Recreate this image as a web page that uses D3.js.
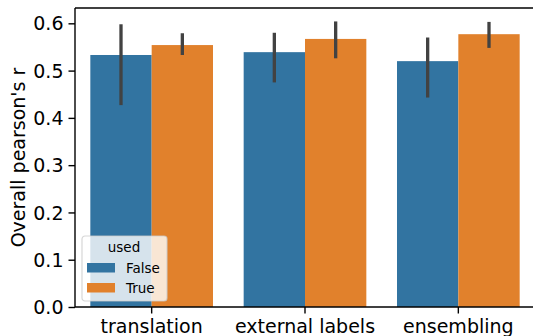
<!DOCTYPE html>
<html>
<head>
<meta charset="utf-8">
<script src="https://cdn.jsdelivr.net/npm/d3@7"></script>
<style>
  html, body { margin: 0; padding: 0; background: #fff; }
  svg { display: block; font-family: "DejaVu Sans", sans-serif; }
</style>
</head>
<body>
<svg id="chart" width="533" height="336"></svg>
<script>
// Grouped bar chart: overall Pearson's r per technique, split by whether it was used
const categories = ["translation", "external labels", "ensembling"];
const hues = ["False", "True"];
const meanValues = {
  False: [0.533, 0.539, 0.520],
  True:  [0.554, 0.567, 0.577]
};
const ciLow = {
  False: [0.427, 0.475, 0.443],
  True:  [0.533, 0.526, 0.548]
};
const ciHigh = {
  False: [0.598, 0.580, 0.570],
  True:  [0.579, 0.604, 0.603]
};
const yTicks = [0.0, 0.1, 0.2, 0.3, 0.4, 0.5, 0.6];
const colors = { False: "#3274a1", True: "#e1812c" };

const svg = d3.select("#chart");
const margin = { left: 75, top: 8, right: -2, bottom: 29 };
const W = 533, H = 336;
const plotLeft = margin.left, plotRight = W - margin.right;
const plotTop = margin.top, plotBottom = H - margin.bottom;

const x = d3.scaleBand().domain(categories).range([plotLeft, plotRight]).paddingInner(0.2).paddingOuter(0.1);
const xHue = d3.scaleBand().domain(hues).range([0, x.bandwidth()]);
const y = d3.scaleLinear().domain([0, 0.6324]).range([plotBottom, plotTop]);

const rows = [];
categories.forEach((c, i) => hues.forEach(h => rows.push({
  cat: c, hue: h, v: meanValues[h][i], lo: ciLow[h][i], hi: ciHigh[h][i]
})));

// bars
svg.append("g").selectAll("rect").data(rows).join("rect")
  .attr("x", d => x(d.cat) + xHue(d.hue))
  .attr("width", xHue.bandwidth())
  .attr("y", d => y(d.v))
  .attr("height", d => y(0) - y(d.v))
  .attr("fill", d => colors[d.hue]);

// confidence interval lines
svg.append("g").selectAll("line").data(rows).join("line")
  .attr("x1", d => x(d.cat) + xHue(d.hue) + xHue.bandwidth() / 2)
  .attr("x2", d => x(d.cat) + xHue(d.hue) + xHue.bandwidth() / 2)
  .attr("y1", d => y(d.lo))
  .attr("y2", d => y(d.hi))
  .attr("stroke", "#424242")
  .attr("stroke-width", 3.3);

// axes
const yAxis = d3.axisLeft(y).tickValues(yTicks).tickFormat(d3.format(".1f")).tickSize(6.5).tickPadding(5);
const gy = svg.append("g").attr("transform", `translate(${plotLeft},0)`).call(yAxis);
gy.select(".domain").remove();
gy.selectAll(".tick line").attr("stroke", "#000").attr("stroke-width", 1.4);
gy.selectAll(".tick text").attr("font-size", 19).attr("fill", "#000")
  .attr("font-family", "DejaVu Sans").attr("dy", "0.35em");

const xAxis = d3.axisBottom(x).tickSize(6.5).tickPadding(5);
const gx = svg.append("g").attr("transform", `translate(0,${plotBottom})`).call(xAxis);
gx.select(".domain").remove();
gx.selectAll(".tick line").attr("stroke", "#000").attr("stroke-width", 1.4);
gx.selectAll(".tick text").attr("font-size", 19).attr("fill", "#000")
  .attr("font-family", "DejaVu Sans").attr("dy", "0").attr("y", 26);

// spines
const spines = svg.append("g").attr("stroke", "#000").attr("stroke-width", 1.4).attr("fill", "none");
spines.append("line").attr("x1", plotLeft).attr("x2", plotLeft).attr("y1", plotTop).attr("y2", plotBottom);
spines.append("line").attr("x1", plotLeft).attr("x2", plotRight).attr("y1", plotBottom).attr("y2", plotBottom);
spines.append("line").attr("x1", plotLeft).attr("x2", plotRight).attr("y1", plotTop).attr("y2", plotTop);
spines.append("line").attr("x1", plotRight).attr("x2", plotRight).attr("y1", plotTop).attr("y2", plotBottom);

// y axis label
svg.append("text")
  .attr("transform", `translate(25,${(plotTop + plotBottom) / 2}) rotate(-90)`)
  .attr("text-anchor", "middle")
  .attr("font-size", 19)
  .attr("fill", "#000")
  .text("Overall pearson's r");

// legend
const lg = svg.append("g").attr("transform", "translate(82,236)");
lg.append("rect").attr("width", 85).attr("height", 65).attr("rx", 3)
  .attr("fill", "#fff").attr("fill-opacity", 0.8)
  .attr("stroke", "#ccc").attr("stroke-opacity", 0.8).attr("stroke-width", 1.2);
lg.append("text").attr("x", 42).attr("y", 16).attr("text-anchor", "middle")
  .attr("font-size", 13.5).attr("fill", "#000").text("used");
hues.forEach((h, i) => {
  const gy0 = 27 + i * 20;
  lg.append("rect").attr("x", 5).attr("y", gy0).attr("width", 28).attr("height", 9.5)
    .attr("fill", colors[h]);
  lg.append("text").attr("x", 44).attr("y", gy0 + 9.6)
    .attr("font-size", 13.5).attr("fill", "#000").text(h);
});
</script>
</body>
</html>
